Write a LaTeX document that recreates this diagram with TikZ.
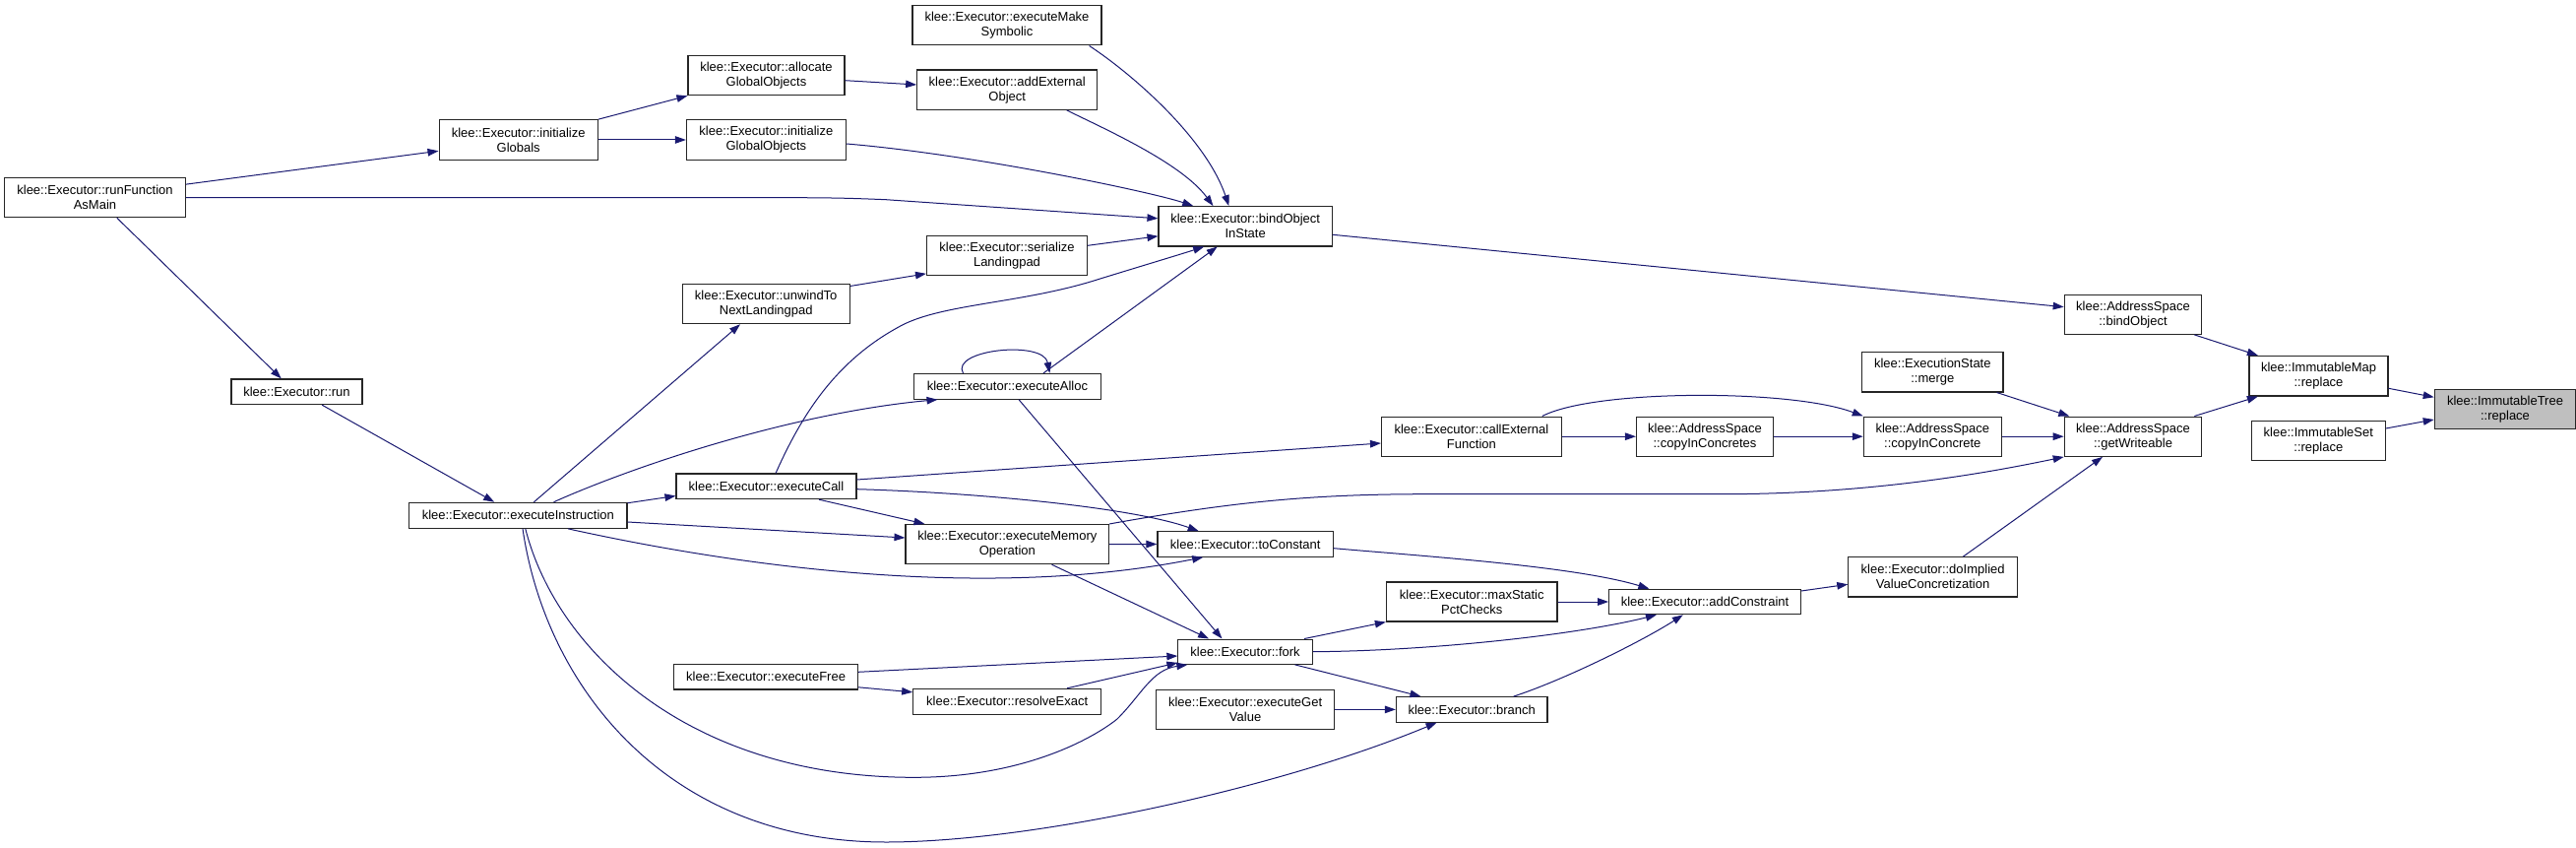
\documentclass[tikz,border=0pt]{standalone}
\usepackage{fontspec}
\setmainfont{Liberation Sans}
\usetikzlibrary{arrows.meta,calc}
\definecolor{edgeblue}{HTML}{191970}
\definecolor{maingray}{HTML}{BFBFBF}
\begin{document}
\begin{tikzpicture}[x=1pt,y=-1pt,
  box/.style={draw=black!85, line width=1.1pt, fill=white, inner sep=0pt, align=center, font=\fontsize{13}{15}\selectfont},
  edge/.style={draw=edgeblue, line width=1pt, -{Triangle[length=11pt,width=7.5pt]}}]
\useasboundingbox (0,0) rectangle (2617,861);

\node[box,minimum width=183.7pt,minimum height=40pt] (rfam) at (96.5,200.7) {klee::Executor::runFunction\\AsMain};
\node[box,minimum width=161.3pt,minimum height=40.6pt] (igl) at (526.7,142) {klee::Executor::initialize\\Globals};
\node[box,minimum width=159pt,minimum height=40pt] (agl) at (778.5,76.7) {klee::Executor::allocate\\GlobalObjects};
\node[box,minimum width=162pt,minimum height=40.6pt] (igo) at (778.4,142) {klee::Executor::initialize\\GlobalObjects};
\node[box,minimum width=192pt,minimum height=40.3pt] (ems) at (1023,25.8) {klee::Executor::executeMake\\Symbolic};
\node[box,minimum width=183pt,minimum height=40.3pt] (aeo) at (1023.2,91.2) {klee::Executor::addExternal\\Object};
\node[box,minimum width=176.4pt,minimum height=40.3pt] (bois) at (1265.2,229.8) {klee::Executor::bindObject\\InState};
\node[box,minimum width=163pt,minimum height=40pt] (sl) at (1023,259.3) {klee::Executor::serialize\\Landingpad};
\node[box,minimum width=170.3pt,minimum height=40pt] (unw) at (778.2,308.7) {klee::Executor::unwindTo\\NextLandingpad};
\node[box,minimum width=133pt,minimum height=25.7pt] (run) at (301.5,397.8) {klee::Executor::run};
\node[box,minimum width=189.7pt,minimum height=25.7pt] (ea) at (1023.4,392.3) {klee::Executor::executeAlloc};
\node[box,minimum width=221.4pt,minimum height=26pt] (ei) at (526.3,523.3) {klee::Executor::executeInstruction};
\node[box,minimum width=183pt,minimum height=25.7pt] (ec) at (778.5,493.8) {klee::Executor::executeCall};
\node[box,minimum width=206.6pt,minimum height=40.2pt] (emo) at (1023.3,552.6) {klee::Executor::executeMemory\\Operation};
\node[box,minimum width=178.4pt,minimum height=25.5pt] (tc) at (1265.2,552.5) {klee::Executor::toConstant};
\node[box,minimum width=182.8pt,minimum height=40.3pt] (cef) at (1494.9,443.2) {klee::Executor::callExternal\\Function};
\node[box,minimum width=139pt,minimum height=40.3pt] (cics) at (1732,443.2) {klee::AddressSpace\\::copyInConcretes};
\node[box,minimum width=140pt,minimum height=40.3pt] (cic) at (1963.3,443.2) {klee::AddressSpace\\::copyInConcrete};
\node[box,minimum width=139.5pt,minimum height=40.3pt] (gw) at (2167,443.2) {klee::AddressSpace\\::getWriteable};
\node[box,minimum width=143.3pt,minimum height=40.3pt] (merge) at (1963.3,377.8) {klee::ExecutionState\\::merge};
\node[box,minimum width=139.5pt,minimum height=40.3pt] (asbo) at (2167,319.2) {klee::AddressSpace\\::bindObject};
\node[box,minimum width=141pt,minimum height=40.6pt] (imr) at (2355.5,381.7) {klee::ImmutableMap\\::replace};
\node[box,fill=maingray,minimum width=143.4pt,minimum height=40.3pt] (itr) at (2545,415.2) {klee::ImmutableTree\\::replace};
\node[box,minimum width=136pt,minimum height=40.3pt] (isr) at (2355.3,447.2) {klee::ImmutableSet\\::replace};
\node[box,minimum width=173.6pt,minimum height=40pt] (mspc) at (1495.2,611) {klee::Executor::maxStatic\\PctChecks};
\node[box,minimum width=194.7pt,minimum height=25.5pt] (ac) at (1732,611) {klee::Executor::addConstraint};
\node[box,minimum width=171.6pt,minimum height=40.3pt] (divc) at (1963.6,585.8) {klee::Executor::doImplied\\ValueConcretization};
\node[box,minimum width=136.4pt,minimum height=25.3pt] (fork) at (1265.1,661.7) {klee::Executor::fork};
\node[box,minimum width=186.7pt,minimum height=25.7pt] (ef) at (778.1,687.1) {klee::Executor::executeFree};
\node[box,minimum width=191pt,minimum height=25.9pt] (re) at (1023.2,712.3) {klee::Executor::resolveExact};
\node[box,minimum width=181.2pt,minimum height=40.2pt] (egv) at (1265.1,720.4) {klee::Executor::executeGet\\Value};
\node[box,minimum width=153.6pt,minimum height=25.5pt] (br) at (1495.2,720.4) {klee::Executor::branch};

\draw[edge] ([yshift=-7pt]rfam.north east) -- ([yshift=-11.3pt]igl.west);
\draw[edge] (igl.north east) -- (agl.south west);
\draw[edge] (igl.east) -- (igo.west);
\draw[edge] ([yshift=-5pt]agl.east) -- ([yshift=5.2pt]aeo.west);
\draw[edge] ([yshift=-4pt]igo.east) .. controls (990,157) and (1170,195) .. ([xshift=35.8pt]bois.north west);
\draw[edge] ([xshift=60.5pt]aeo.south) .. controls (1120,130) and (1200,165) .. ([xshift=56pt]bois.north west);
\draw[edge] ([xshift=83.6pt]ems.south) .. controls (1150,75) and (1225,140) .. ([xshift=72pt]bois.north west);
\draw[edge] (rfam.east) -- (800,200.7) .. controls (850,200.7) and (870,201.5) .. (900,202.7) -- ([yshift=8pt]bois.west);
\draw[edge] ([yshift=10pt]sl.east) -- ([yshift=-10pt]bois.west);
\draw[edge] ([yshift=-2.3pt]unw.north east) -- ([yshift=2pt]sl.south west);
\draw[edge] ([xshift=9.6pt]ec.north) .. controls (815,420) and (850,365) .. (916.7,330) .. controls (960,308) and (1040,308) .. (1116.7,283.3) .. controls (1160,270) and (1200,258) .. ([xshift=-42pt]bois.south);
\draw[edge] ([xshift=36.6pt]ea.north) -- ([xshift=-28.5pt]bois.south);
\draw[edge] ([xshift=-45pt]ea.north) .. controls (965,355) and (1060,345) .. ([xshift=43pt]ea.north);
\draw[edge] ([xshift=36.2pt]ei.north) .. controls (640,475) and (800,420) .. ([xshift=24.5pt]ea.south west);
\draw[edge] ([xshift=11.6pt]ea.south) -- ([xshift=-23.6pt]fork.north);
\draw[edge] ([yshift=-1pt]ei.north east) -- ([yshift=3.7pt]ec.south west);
\draw[edge] ([yshift=6.8pt]ec.east) -- ([yshift=-6.8pt]cef.west);
\draw[edge] (cef.east) -- (cics.west);
\draw[edge] (cics.east) -- (cic.west);
\draw[edge] (cic.east) -- (gw.west);
\draw[edge] ([xshift=-7pt]merge.south east) -- ([xshift=5.6pt]gw.north west);
\draw[edge] ([xshift=71.9pt]cef.north) .. controls (1620,395) and (1820,395) .. (cic.north west);
\draw[edge] ([xshift=-8pt]gw.north east) -- ([xshift=9.4pt]imr.south west);
\draw[edge] ([xshift=-8pt]asbo.south east) -- ([xshift=9.4pt]imr.north west);
\draw[edge] ([yshift=-8.5pt]bois.east) -- ([yshift=7.5pt]asbo.west);
\draw[edge] ([yshift=-12.6pt]imr.east) -- ([yshift=11.9pt]itr.west);
\draw[edge] ([yshift=12.2pt]isr.east) -- ([yshift=-10.8pt]itr.west);
\draw[edge] (emo.north east) .. controls (1250,510) and (1330,501.7) .. (1450,501.7) -- (1750,501.7) .. controls (1900,501.7) and (2020,480) .. (gw.south west);
\draw[edge] ([xshift=30.8pt]divc.north) -- ([xshift=-31pt]gw.south);
\draw[edge] ([yshift=11pt]ac.east) -- ([yshift=-7.5pt]divc.west);
\draw[edge] ([yshift=-4.2pt]tc.east) .. controls (1450,565) and (1600,575) .. ([xshift=41.3pt]ac.north west);
\draw[edge] (mspc.east) -- (ac.west);
\draw[edge] ([xshift=-8.7pt]fork.north east) -- (mspc.south west);
\draw[edge] (fork.east) .. controls (1450,661) and (1600,645) .. ([xshift=48.8pt]ac.south west);
\draw[edge] ([xshift=42.4pt]br.north) .. controls (1590,690) and (1670,650) .. ([xshift=-22.2pt]ac.south);
\draw[edge] ([xshift=-18.3pt]fork.south east) -- ([xshift=25.6pt]br.north west);
\draw[edge] (egv.east) -- (br.west);
\draw[edge] ([xshift=4.7pt]ei.south) .. controls (555,700) and (680,855) .. (900,855) .. controls (1050,855) and (1300,800) .. ([xshift=-35.6pt]br.south);
\draw[edge] ([xshift=7.5pt]ei.south) .. controls (565,660) and (700,790) .. (930,789.3) .. controls (1040,789) and (1110,750) .. (1135,730) .. controls (1160,705) and (1170,680) .. ([xshift=10pt]fork.south west);
\draw[edge] ([yshift=-6.7pt]ei.east) -- ([yshift=6.6pt]emo.west);
\draw[edge] ([xshift=50.7pt]ei.south) .. controls (750,575) and (1000,610) .. ([xshift=-43pt]tc.south);
\draw[edge] ([xshift=53.5pt]ec.south) -- ([xshift=20pt]emo.north west);
\draw[edge] ([yshift=-2.9pt]ec.east) .. controls (990,500) and (1150,515) .. ([xshift=-47.5pt]tc.north);
\draw[edge] (emo.east) -- (tc.west);
\draw[edge] ([xshift=45.2pt]emo.south) -- ([xshift=-37pt]fork.north);
\draw[edge] ([yshift=4.8pt]ef.east) -- ([yshift=-4.3pt]fork.west);
\draw[edge] ([yshift=2.7pt]ef.south east) -- ([yshift=-4pt]re.north west);
\draw[edge] ([xshift=60.8pt]re.north) -- ([yshift=2pt]fork.south west);
\draw[edge] ([xshift=22.3pt]rfam.south) -- ([xshift=-15.7pt]run.north);
\draw[edge] ([xshift=25.7pt]run.south) -- ([xshift=-24.1pt]ei.north);
\draw[edge] ([xshift=16.1pt]ei.north) -- ([xshift=-26.2pt]unw.south);
\end{tikzpicture}
\end{document}
